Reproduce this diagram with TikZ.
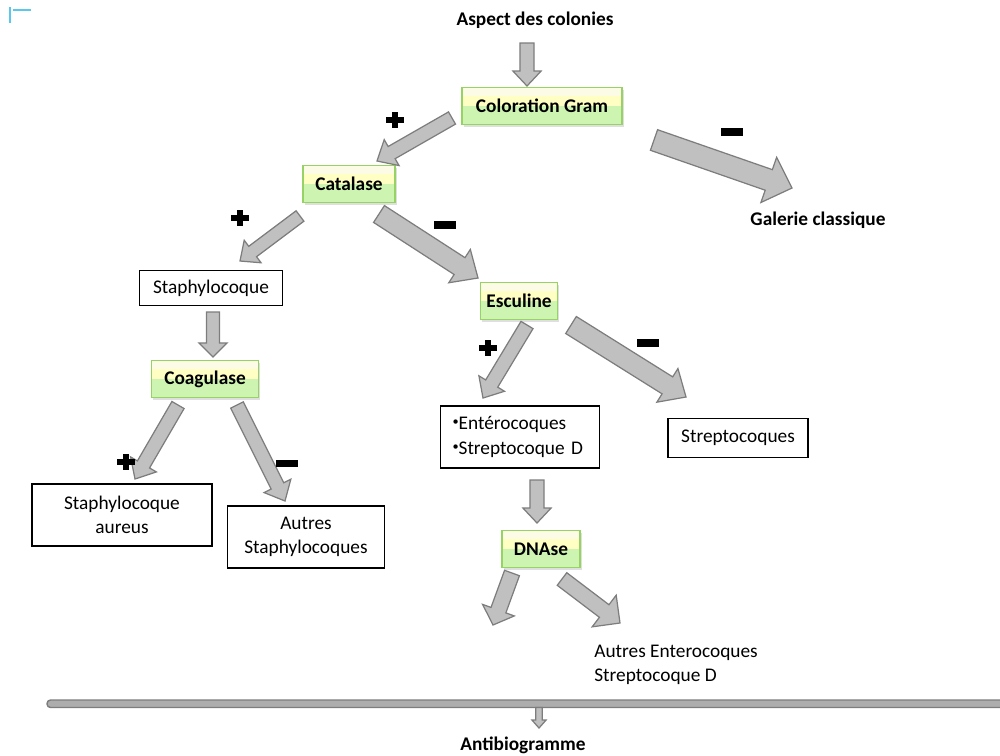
\documentclass[tikz,border=0pt]{standalone}
\usepackage{fontspec}
\setmainfont{Carlito}
\usetikzlibrary{positioning,calc,shadows}
\definecolor{BoxTop}{RGB}{252,252,230}
\definecolor{BoxYellow}{RGB}{255,255,196}
\definecolor{BoxGreen}{RGB}{206,244,178}
\definecolor{BoxLine}{RGB}{150,210,100}
\definecolor{ArrFill}{RGB}{192,192,192}
\definecolor{ArrLine}{RGB}{125,125,125}
\definecolor{MarkCyan}{RGB}{90,200,234}
\tikzset{
	txt/.style={font=\fontsize{11}{14}\selectfont,inner sep=0pt},
	head/.style={txt,font=\fontsize{11}{14}\selectfont\bfseries},
	test/.style={txt,font=\fontsize{11}{14}\selectfont\bfseries,draw=BoxLine,line width=0.8pt,
		minimum height=0.74cm,
		drop shadow={opacity=0.25,shadow xshift=1pt,shadow yshift=-1.2pt},
		path picture={
			\fill[BoxYellow] (path picture bounding box.north west) rectangle (path picture bounding box.east);
			\fill[BoxTop] (path picture bounding box.north west) rectangle ($(path picture bounding box.north east)!0.22!(path picture bounding box.south east)$);
			\fill[BoxGreen] (path picture bounding box.west) rectangle (path picture bounding box.south east);
		}},
	result/.style={txt,draw=black,line width=0.7pt,fill=white,align=center},
	fatarr/.style={fill=ArrFill,draw=ArrLine,line width=0.7pt,line join=miter},
	plusmark/.pic={\fill (-5pt,-1.7pt) rectangle (5pt,1.7pt);
		\fill (-1.7pt,-4.8pt) rectangle (1.7pt,4.8pt);},
	minusmark/.pic={\fill (-6.5pt,-2pt) rectangle (6.5pt,2pt);},
}
\newcommand{\fatarrow}[5]{%
	\coordinate (fa-h) at ($(#2)!#5!(#1)$);
	\draw[fatarr] ($(#1)!#3!90:(#2)$) -- ($(fa-h)!#3!90:(#2)$) -- ($(fa-h)!#4!90:(#2)$) -- (#2)
		-- ($(fa-h)!#4!-90:(#2)$) -- ($(fa-h)!#3!-90:(#2)$) -- ($(#1)!#3!-90:(#2)$) -- cycle;}
\newcommand{\smallbullet}{\raisebox{0.45ex}{\fontsize{7}{7}\selectfont•}}

\begin{document}
\begin{tikzpicture}[x=0.02cm,y=-0.02cm]
	\useasboundingbox (0,0) rectangle (1000,755);
	\draw[MarkCyan,line width=0.85pt] (10,7) -- (10,23) (13,10) -- (31,10);

	\node[head] (aspect) at (535,20) {Aspect des colonies};
	\node[test,minimum width=3.2cm] (gram) at (542,106) {Coloration Gram};
	\node[head] (galerie) at (818,220) {Galerie classique};
	\node[test,minimum width=1.84cm] (catal) at (349,184) {Catalase};
	\node[result,minimum width=2.86cm,minimum height=0.7cm] (staph) at (211,288) {Staphylocoque};
	\node[test,minimum width=2.14cm] (coag) at (205,379) {Coagulase};
	\node[result,minimum width=3.6cm,minimum height=1.24cm] (aureus) at (122,515) {Staphylocoque\\aureus};
	\node[result,minimum width=3.14cm,minimum height=1.24cm] (autres) at (306,537) {Autres\\Staphylocoques};
	\node[test,minimum width=1.54cm] (escul) at (519,301) {Esculine};
	\node[result,align=left,text width=2.7cm,inner xsep=0.24cm,minimum height=1.24cm] (entero) at (520,437) {\smallbullet Entérocoques\\\smallbullet Streptocoque D};
	\node[result,minimum width=2.8cm,minimum height=0.78cm] (strep) at (738,438) {Streptocoques};
	\node[test,minimum width=1.56cm] (dnase) at (541,549) {DNAse};
	\node[txt,align=left,anchor=west] (dnaseres) at (594,665) {Autres Enterocoques\\Streptocoque D};
	\node[head] (antibio) at (523,745) {Antibiogramme};

	\draw[fill=ArrFill!90!black,draw=ArrLine,line width=0.8pt,rounded corners=2pt]
		(47,700) rectangle (1004,707.5);
	\coordinate (bar) at (539,707.5);

	\coordinate (aspect-o) at (527,43);  \coordinate (gram-i) at (527,86);
	\coordinate (gram-l) at (452,118);   \coordinate (catal-i) at (377,161);
	\coordinate (gram-r) at (654,140);   \coordinate (galerie-i) at (792,188);
	\coordinate (catal-l) at (300,216);  \coordinate (staph-i) at (240,261);
	\coordinate (catal-r) at (379,214);  \coordinate (escul-i) at (478,278);
	\coordinate (staph-o) at (213,312);  \coordinate (coag-i) at (213,357);
	\coordinate (coag-l) at (178,405);   \coordinate (aureus-i) at (135,479);
	\coordinate (coag-r) at (237,405);   \coordinate (autres-i) at (285,501);
	\coordinate (escul-l) at (527,325);  \coordinate (entero-i) at (483,398);
	\coordinate (escul-r) at (571,325);  \coordinate (strep-i) at (686,397);
	\coordinate (entero-o) at (537,480); \coordinate (dnase-i) at (537,523);
	\coordinate (dnase-l) at (512,573);  \coordinate (dnase-a) at (493,625);
	\coordinate (dnase-r) at (562,579);  \coordinate (dnaseres-i) at (620,623);
	\coordinate (antibio-i) at (539,728);

	\fatarrow{aspect-o}{gram-i}{4pt}{8pt}{8.5pt}
	\fatarrow{gram-l}{catal-i}{4pt}{8.5pt}{9.6pt}
	\fatarrow{gram-r}{galerie-i}{6.2pt}{13.6pt}{14pt}
	\fatarrow{catal-l}{staph-i}{3.7pt}{8pt}{9pt}
	\fatarrow{catal-r}{escul-i}{5.7pt}{11.3pt}{12.5pt}
	\fatarrow{staph-o}{coag-i}{3.7pt}{8pt}{8pt}
	\fatarrow{coag-l}{aureus-i}{4pt}{8.5pt}{9.6pt}
	\fatarrow{coag-r}{autres-i}{4pt}{8.5pt}{9.6pt}
	\fatarrow{escul-l}{entero-i}{4pt}{8.5pt}{9.6pt}
	\fatarrow{escul-r}{strep-i}{5.7pt}{11.3pt}{12.5pt}
	\fatarrow{entero-o}{dnase-i}{4pt}{8pt}{8.5pt}
	\fatarrow{dnase-l}{dnase-a}{4.5pt}{9.6pt}{9pt}
	\fatarrow{dnase-r}{dnaseres-i}{4.5pt}{11.3pt}{11.3pt}
	\fatarrow{bar}{antibio-i}{1.8pt}{4pt}{4.5pt}

	\pic at (395,120) {plusmark};
	\pic at (732,132) {minusmark};
	\pic at (240,218) {plusmark};
	\pic at (445,225) {minusmark};
	\pic at (126,462) {plusmark};
	\pic at (287,463) {minusmark};
	\pic at (488,348) {plusmark};
	\pic at (648,343) {minusmark};
\end{tikzpicture}
\end{document}
